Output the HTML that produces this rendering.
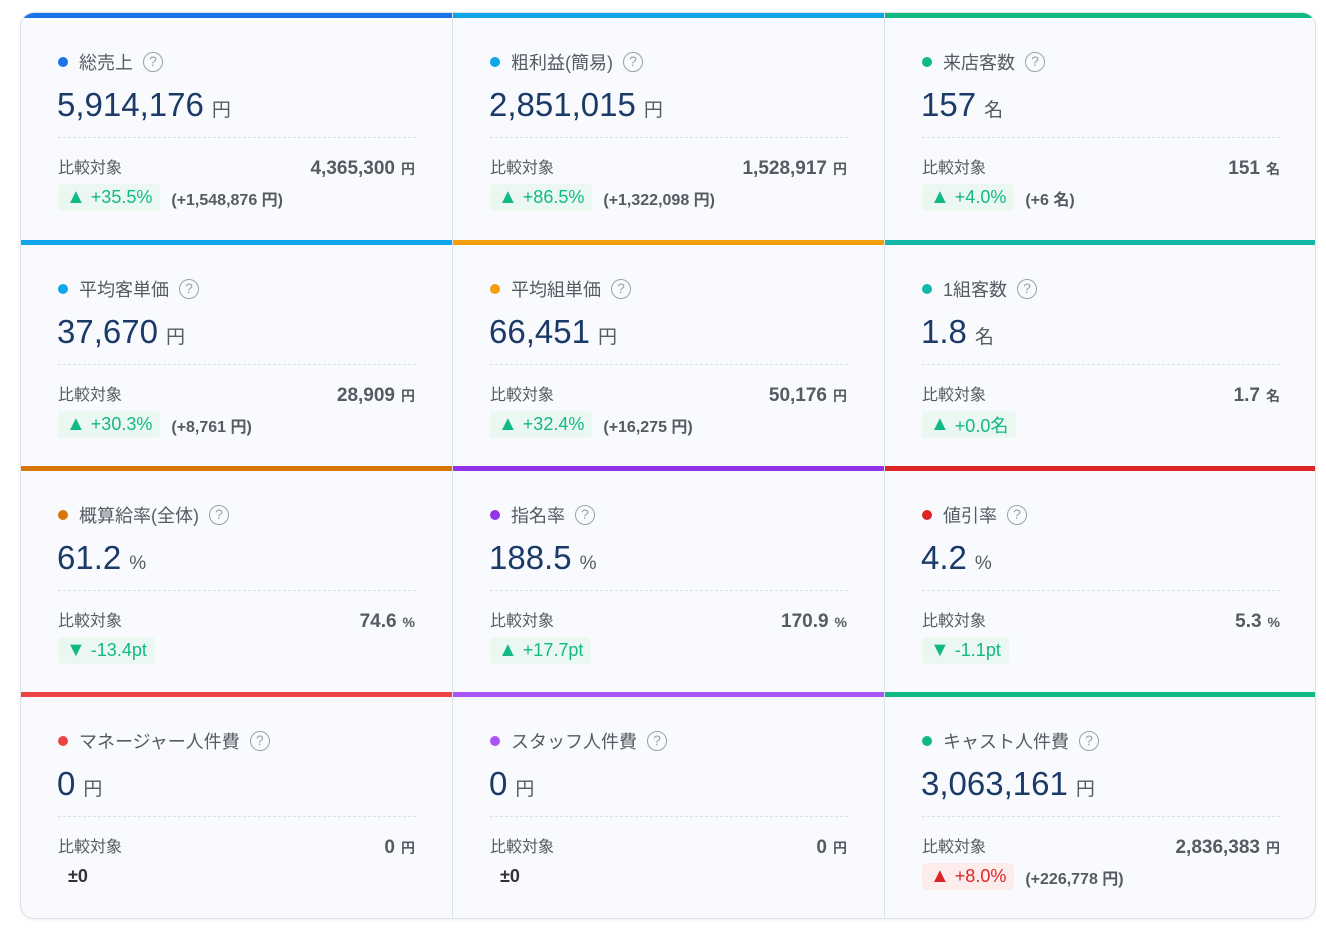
<!DOCTYPE html>
<html><head><meta charset="utf-8"><style>
*{box-sizing:border-box;margin:0;padding:0}
body{width:1326px;height:930px;background:#fff;font-family:"Liberation Sans","Noto Sans CJK JP",sans-serif;position:relative;overflow:hidden}
.wrap{position:absolute;left:20px;top:12px;width:1296px;height:907px;border:1px solid #dfe3e8;border-radius:14px;overflow:hidden;background:#f8fafd;box-shadow:0 1px 3px rgba(0,0,0,.06)}
.card{position:absolute;width:432px;height:227px;border-right:1px solid #dde2e8;}
.bar{position:absolute;left:0;right:0;top:0;height:5px}
.t{position:absolute;left:37px;top:36px;font-size:18px;color:#555b63;display:flex;align-items:center;white-space:nowrap}
.dot{width:10px;height:10px;border-radius:50%;margin-right:11px}
.q{display:inline-block;width:20px;height:20px;border:1.6px solid #98a2ad;border-radius:50%;color:#98a2ad;font-size:14px;text-align:center;line-height:17px;margin-left:10px;font-style:normal}
.v{position:absolute;left:36px;top:73px;font-size:33px;color:#1b3a68;white-space:nowrap}
.v span{font-size:19px;color:#555b63;margin-left:8px}
.d{position:absolute;left:37px;width:358px;top:124px;border-top:1.5px dashed #dde1e6}
.cl{position:absolute;left:37px;top:141px;font-size:16px;color:#555b63}
.cv{position:absolute;right:37px;top:145px;font-size:19px;color:#555b63;font-weight:bold;white-space:nowrap}
.cv span{font-size:14px;margin-left:6px}
.dl{position:absolute;left:37px;top:171px;display:flex;align-items:center;white-space:nowrap;font-size:18px}
.p{background:#ebf8f2;color:#12b886;padding:2px 8px;border-radius:4px;height:27px;display:flex;align-items:center}
.p b{font-size:20px;margin-right:5px;font-weight:normal}
.p.r{background:#fdecec;color:#dc2626}
.p.n{background:transparent;color:#333;font-weight:bold;padding-left:10px}
.ex{color:#555b63;font-weight:bold;margin-left:11px;font-size:16px}
</style></head><body><div class="wrap">
<div class="card" style="left:0;top:0"><div class="bar" style="background:#1a73e8"></div><div class="t"><i class="dot" style="background:#1a73e8"></i>総売上<i class="q">?</i></div><div class="v">5,914,176<span>円</span></div><div class="d"></div><div class="cl">比較対象</div><div class="cv">4,365,300<span>円</span></div><div class="dl"><div class="p"><b>▲</b>+35.5%</div><span class="ex">(+1,548,876 円)</span></div></div>
<div class="card" style="left:432px;top:0"><div class="bar" style="background:#0ea5e9"></div><div class="t"><i class="dot" style="background:#0ea5e9"></i>粗利益(簡易)<i class="q">?</i></div><div class="v">2,851,015<span>円</span></div><div class="d"></div><div class="cl">比較対象</div><div class="cv">1,528,917<span>円</span></div><div class="dl"><div class="p"><b>▲</b>+86.5%</div><span class="ex">(+1,322,098 円)</span></div></div>
<div class="card" style="left:864px;top:0;border-right:0"><div class="bar" style="background:#10b981"></div><div class="t"><i class="dot" style="background:#10b981"></i>来店客数<i class="q">?</i></div><div class="v">157<span>名</span></div><div class="d"></div><div class="cl">比較対象</div><div class="cv">151<span>名</span></div><div class="dl"><div class="p"><b>▲</b>+4.0%</div><span class="ex">(+6 名)</span></div></div>
<div class="card" style="left:0;top:227px"><div class="bar" style="background:#0ea5e9"></div><div class="t"><i class="dot" style="background:#0ea5e9"></i>平均客単価<i class="q">?</i></div><div class="v">37,670<span>円</span></div><div class="d"></div><div class="cl">比較対象</div><div class="cv">28,909<span>円</span></div><div class="dl"><div class="p"><b>▲</b>+30.3%</div><span class="ex">(+8,761 円)</span></div></div>
<div class="card" style="left:432px;top:227px"><div class="bar" style="background:#f59e0b"></div><div class="t"><i class="dot" style="background:#f59e0b"></i>平均組単価<i class="q">?</i></div><div class="v">66,451<span>円</span></div><div class="d"></div><div class="cl">比較対象</div><div class="cv">50,176<span>円</span></div><div class="dl"><div class="p"><b>▲</b>+32.4%</div><span class="ex">(+16,275 円)</span></div></div>
<div class="card" style="left:864px;top:227px;border-right:0"><div class="bar" style="background:#14b8a6"></div><div class="t"><i class="dot" style="background:#14b8a6"></i>1組客数<i class="q">?</i></div><div class="v">1.8<span>名</span></div><div class="d"></div><div class="cl">比較対象</div><div class="cv">1.7<span>名</span></div><div class="dl"><div class="p"><b>▲</b>+0.0名</div></div></div>
<div class="card" style="left:0;top:453px"><div class="bar" style="background:#d97706"></div><div class="t"><i class="dot" style="background:#d97706"></i>概算給率(全体)<i class="q">?</i></div><div class="v">61.2<span>%</span></div><div class="d"></div><div class="cl">比較対象</div><div class="cv">74.6<span>%</span></div><div class="dl"><div class="p"><b>▼</b>-13.4pt</div></div></div>
<div class="card" style="left:432px;top:453px"><div class="bar" style="background:#9333ea"></div><div class="t"><i class="dot" style="background:#9333ea"></i>指名率<i class="q">?</i></div><div class="v">188.5<span>%</span></div><div class="d"></div><div class="cl">比較対象</div><div class="cv">170.9<span>%</span></div><div class="dl"><div class="p"><b>▲</b>+17.7pt</div></div></div>
<div class="card" style="left:864px;top:453px;border-right:0"><div class="bar" style="background:#dc2626"></div><div class="t"><i class="dot" style="background:#dc2626"></i>値引率<i class="q">?</i></div><div class="v">4.2<span>%</span></div><div class="d"></div><div class="cl">比較対象</div><div class="cv">5.3<span>%</span></div><div class="dl"><div class="p"><b>▼</b>-1.1pt</div></div></div>
<div class="card" style="left:0;top:679px"><div class="bar" style="background:#ef4444"></div><div class="t"><i class="dot" style="background:#ef4444"></i>マネージャー人件費<i class="q">?</i></div><div class="v">0<span>円</span></div><div class="d"></div><div class="cl">比較対象</div><div class="cv">0<span>円</span></div><div class="dl"><div class="p n">±0</div></div></div>
<div class="card" style="left:432px;top:679px"><div class="bar" style="background:#a855f7"></div><div class="t"><i class="dot" style="background:#a855f7"></i>スタッフ人件費<i class="q">?</i></div><div class="v">0<span>円</span></div><div class="d"></div><div class="cl">比較対象</div><div class="cv">0<span>円</span></div><div class="dl"><div class="p n">±0</div></div></div>
<div class="card" style="left:864px;top:679px;border-right:0"><div class="bar" style="background:#10b981"></div><div class="t"><i class="dot" style="background:#10b981"></i>キャスト人件費<i class="q">?</i></div><div class="v">3,063,161<span>円</span></div><div class="d"></div><div class="cl">比較対象</div><div class="cv">2,836,383<span>円</span></div><div class="dl"><div class="p r"><b>▲</b>+8.0%</div><span class="ex">(+226,778 円)</span></div></div>
</div></body></html>
